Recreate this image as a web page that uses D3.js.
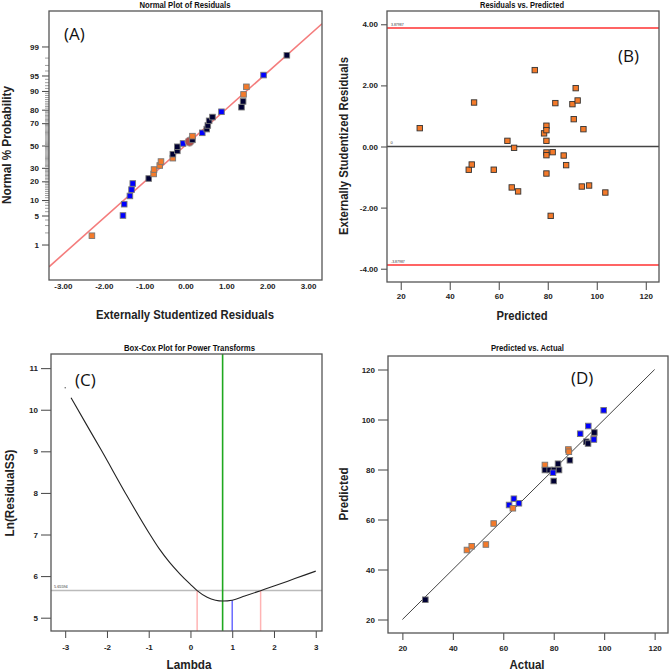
<!DOCTYPE html>
<html><head><meta charset="utf-8">
<script src="https://cdn.jsdelivr.net/npm/d3@7"></script>
<style>body{margin:0;background:#fff}svg{display:block}</style>
</head><body><svg id="c" width="669" height="672"></svg>
<script>
// ---------- DATA ----------
// (A) Normal plot of residuals
const residA = [-2.29,-1.53,-1.50,-1.36,-1.32,-1.29,-0.90,-0.78,-0.77,-0.63,-0.60,-0.31,-0.31,-0.20,-0.20,-0.06,0.17,0.17,0.41,0.52,0.546,0.578,0.66,0.88,1.37,1.41,1.42,1.49,1.91,2.48];
const probA  = [1.7,5.0,8.4,11.8,15.0,18.6,21.9,25.2,28.6,31.9,35.3,38.3,41.9,45.0,48.8,51.9,55.3,58.7,61.7,65.0,68.1,71.9,74.8,78.6,81.6,85.0,88.5,91.6,95.1,98.3];
const colA   = ["o","b","b","b","b","b","n","o","o","o","o","o","n","n","n","b","n","o","b","n","n","n","n","b","n","n","o","o","b","n"];
const circleA = {resid:0.10, prob:53.7};
const lineAx = [-3.34, 3.34], lineAz = [-2.85, 2.86];
const probTicksA = [1,5,10,20,30,50,70,80,90,95,99];
const xTicksA = [-3,-2,-1,0,1,2,3];

// (B) Residuals vs predicted
const predB  = [27.76,49.93,47.76,48.98,63.54,66.26,65.3,67.9,57.96,74.7,78.5,79.46,79.46,79.46,79.46,79.46,79.46,81.2,82.0,83.1,86.5,87.5,90.07,90.6,91.4,92.2,93.9,94.56,96.87,103.5];
const residB = [0.60,1.44,-0.76,-0.59,0.185,-0.044,-1.34,-1.47,-0.76,2.50,0.43,0.68,0.535,0.185,-0.196,-0.284,-0.884,-2.27,-0.185,1.42,-0.295,-0.61,1.386,0.895,1.91,1.506,-1.31,0.567,-1.277,-1.506];
const limitB = 3.87987;
const xTicksB = [20,40,60,80,100,120];
const yTicksB = [-4,-2,0,2,4];

// (C) Box-Cox
const lambdaC = [-2.86,-2.5,-2.12,-1.56,-1.0,-0.75,-0.5,-0.25,0,0.16,0.4,0.6,0.77,1.0,1.3,1.68,2.0,2.5,3.0];
const lnRssC  = [10.29,9.66,9.0,8.0,7.05,6.66,6.33,6.05,5.80,5.65,5.49,5.42,5.40,5.42,5.52,5.65,5.76,5.94,6.12];
const ciLineC = 5.65594, bestLambdaC = 0.77, currentLambdaC = 1.0, lowCIC = 0.16, highCIC = 1.68;
const strayC = {l:-3.0, v:10.53};
const xTicksC = [-3,-2,-1,0,1,2,3];
const yTicksC = [5,6,7,8,9,10,11];

// (D) Predicted vs actual
const actualD = [29.1,45.6,47.5,53.1,56.2,62.3,64.2,63.8,66.2,76.5,76.5,78.4,80.1,82.1,79.7,81.7,80.0,86.4,85.8,86.0,90.5,93.7,92.9,93.6,96.1,95.9,95.9,99.8];
const predD   = [27.9,47.8,49.3,50.0,58.4,65.8,68.3,64.5,66.5,81.8,79.8,79.8,79.8,79.8,78.7,82.3,75.4,83.7,88.0,87.1,94.3,97.4,91.1,90.4,94.8,92.4,92.0,103.7];
const colD    = ["n","o","o","o","o","b","b","o","b","o","n","n","n","n","b","n","n","n","o","o","b","b","n","n","n","o","b","b"];
const ticksD = [20,40,60,80,100,120];

// ---------- HELPERS ----------
const fill = {o:"#f47a2a", b:"#0000ff", n:"#000033"};
const svg = d3.select("#c");
const TF = "'Liberation Sans', Arial, sans-serif";

function probit(p){
  const a=[-3.969683028665376e+01,2.209460984245205e+02,-2.759285104469687e+02,1.383577518672690e+02,-3.066479806614716e+01,2.506628277459239e+00];
  const b=[-5.447609879822406e+01,1.615858368580409e+02,-1.556989798598866e+02,6.680131188771972e+01,-1.328068155288572e+01];
  const c=[-7.784894002430293e-03,-3.223964580411365e-01,-2.400758277161838e+00,-2.549732539343734e+00,4.374664141464968e+00,2.938163982698783e+00];
  const d=[7.784695709041462e-03,3.224671290700398e-01,2.445134137142996e+00,3.754408661907416e+00];
  const pl=0.02425, ph=1-pl; let q,r;
  if(p<pl){q=Math.sqrt(-2*Math.log(p));return (((((c[0]*q+c[1])*q+c[2])*q+c[3])*q+c[4])*q+c[5])/((((d[0]*q+d[1])*q+d[2])*q+d[3])*q+1);}
  if(p<=ph){q=p-0.5;r=q*q;return (((((a[0]*r+a[1])*r+a[2])*r+a[3])*r+a[4])*r+a[5])*q/(((((b[0]*r+b[1])*r+b[2])*r+b[3])*r+b[4])*r+1);}
  q=Math.sqrt(-2*Math.log(1-p));return -(((((c[0]*q+c[1])*q+c[2])*q+c[3])*q+c[4])*q+c[5])/((((d[0]*q+d[1])*q+d[2])*q+d[3])*q+1);
}

function frame(x0,y0,x1,y1,id){
  svg.append("clipPath").attr("id",id).append("rect").attr("x",x0).attr("y",y0).attr("width",x1-x0).attr("height",y1-y0);
  return ()=>svg.append("rect").attr("x",x0).attr("y",y0).attr("width",x1-x0).attr("height",y1-y0)
     .attr("fill","none").attr("stroke","#555").attr("stroke-width",1.3);
}
function styleAxis(g){
  g.select(".domain").remove();
  g.selectAll("line").attr("stroke","#444").attr("stroke-width",1);
  g.selectAll("text").attr("font-family",TF).attr("font-size",8).attr("font-weight","bold").attr("fill","#222");
}
function title(txt,x,y,len){
  svg.append("text").attr("x",x).attr("y",y).attr("text-anchor","middle").attr("font-family",TF)
    .attr("font-size",8.5).attr("font-weight","bold").attr("fill","#111")
    .attr("textLength",len).attr("lengthAdjust","spacingAndGlyphs").text(txt);
}
function axTitle(txt,x,y,len,rot){
  const t=svg.append("text").attr("text-anchor","middle").attr("font-family",TF).attr("font-weight","bold")
    .attr("font-size",12.5).attr("fill","#222").attr("textLength",len).attr("lengthAdjust","spacingAndGlyphs").text(txt);
  if(rot) t.attr("transform",`translate(${x},${y}) rotate(-90)`); else t.attr("x",x).attr("y",y);
}
function panelLabel(txt,x,y){
  svg.append("text").attr("x",x).attr("y",y).attr("font-family","'Open Sans', 'Liberation Sans', sans-serif")
    .attr("font-size",17).attr("fill","#111").text(txt);
}
function squares(g,xs,ys,cols,size,stroke){
  g.selectAll(null).data(xs.map((x,i)=>[x,ys[i],cols[i]])).join("rect")
    .attr("x",d=>d[0]-size/2).attr("y",d=>d[1]-size/2).attr("width",size).attr("height",size)
    .attr("fill",d=>fill[d[2]]).attr("stroke",stroke).attr("stroke-width",0.9);
}

// ---------- PANEL A ----------
{
  const x = d3.scaleLinear().domain([-3.34,3.34]).range([49,322]);
  const z = d3.scaleLinear().domain([-3.16,3.16]).range([280,11]);
  const y = p => z(probit(p/100));
  const drawFrame = frame(49,11,322,280,"clipA");
  const minor = d3.range(2,99).filter(p=>!probTicksA.includes(p));
  svg.append("g").selectAll("line").data(minor).join("line")
    .attr("x1",45).attr("x2",49).attr("y1",d=>y(d)).attr("y2",d=>y(d)).attr("stroke","#888").attr("stroke-width",0.8);
  const gy = svg.append("g").attr("transform","translate(49,0)")
    .call(d3.axisLeft(d3.scaleLinear().domain(z.domain()).range(z.range())).tickValues(probTicksA.map(p=>probit(p/100)))
      .tickFormat((d,i)=>probTicksA[i]).tickSize(7).tickPadding(3));
  styleAxis(gy);
  const gx = svg.append("g").attr("transform","translate(0,280)")
    .call(d3.axisBottom(x).tickValues(xTicksA).tickFormat(d=>d.toFixed(2)).tickSize(0).tickPadding(3));
  styleAxis(gx);
  svg.append("line").attr("clip-path","url(#clipA)")
    .attr("x1",x(lineAx[0])).attr("y1",z(lineAz[0])).attr("x2",x(lineAx[1])).attr("y2",z(lineAz[1]))
    .attr("stroke","#f47c7c").attr("stroke-width",1.6);
  const g = svg.append("g");
  const pts = residA.map((r,i)=>({r,p:probA[i],c:colA[i]}));
  g.selectAll(null).data(pts.filter(d=>d.r<circleA.resid)).join("rect")
    .attr("x",d=>x(d.r)-2.8).attr("y",d=>y(d.p)-2.8).attr("width",5.6).attr("height",5.6)
    .attr("fill",d=>fill[d.c]).attr("stroke","#777").attr("stroke-width",0.9);
  g.append("circle").attr("cx",x(circleA.resid)).attr("cy",y(circleA.prob)).attr("r",4.6)
    .attr("fill","#b0504c").attr("stroke","#999").attr("stroke-width",0.9);
  g.selectAll(null).data(pts.filter(d=>d.r>=circleA.resid)).join("rect")
    .attr("x",d=>x(d.r)-2.8).attr("y",d=>y(d.p)-2.8).attr("width",5.6).attr("height",5.6)
    .attr("fill",d=>fill[d.c]).attr("stroke","#777").attr("stroke-width",0.9);
  drawFrame();
  title("Normal Plot of Residuals",185,8,91);
  axTitle("Externally Studentized Residuals",185,318.5,178,false);
  axTitle("Normal % Probability",11,145,118,true);
  panelLabel("(A)",64,40);
}

// ---------- PANEL B ----------
{
  const x = d3.scaleLinear().domain([14.4,125.4]).range([387,659]);
  const y = d3.scaleLinear().domain([-4.435,4.435]).range([282,11]);
  const drawFrame = frame(387,11,659,282,"clipB");
  const gy = svg.append("g").attr("transform","translate(387,0)")
    .call(d3.axisLeft(y).tickValues(yTicksB).tickFormat(d=>d.toFixed(2)).tickSize(6).tickPadding(3));
  styleAxis(gy);
  const gx = svg.append("g").attr("transform","translate(0,282)")
    .call(d3.axisBottom(x).tickValues(xTicksB).tickFormat(d=>d).tickSize(8).tickPadding(3));
  styleAxis(gx);
  [limitB,-limitB].forEach(v=>{
    svg.append("line").attr("x1",387).attr("x2",659).attr("y1",y(v)).attr("y2",y(v)).attr("stroke","#ff3030").attr("stroke-width",1.5);
    svg.append("text").attr("x",391).attr("y",y(v)-2).attr("font-family",TF).attr("font-size",3.5).attr("fill","#333")
      .text(v>0?limitB.toFixed(5):"-"+limitB.toFixed(5));
  });
  svg.append("line").attr("x1",387).attr("x2",659).attr("y1",y(0)).attr("y2",y(0)).attr("stroke","#444").attr("stroke-width",1.3);
  svg.append("text").attr("x",390.5).attr("y",y(0)-2.5).attr("font-family",TF).attr("font-size",4).attr("fill","#333").text("0");
  const g = svg.append("g");
  squares(g,predB.map(x),residB.map(y),predB.map(()=>"o"),5.4,"#333");
  drawFrame();
  title("Residuals vs. Predicted",522,7.5,84);
  axTitle("Predicted",522,319.5,51,false);
  axTitle("Externally Studentized Residuals",347.5,146,178,true);
  panelLabel("(B)",618,61.5);
}

// ---------- PANEL C ----------
{
  const x = d3.scaleLinear().domain([-3.34,3.15]).range([51,322]);
  const y = d3.scaleLinear().domain([4.68,11.34]).range([631,354]);
  const drawFrame = frame(51,354,322,631,"clipC");
  const gy = svg.append("g").attr("transform","translate(51,0)")
    .call(d3.axisLeft(y).tickValues(yTicksC).tickFormat(d=>d).tickSize(10).tickPadding(3));
  styleAxis(gy);
  const gx = svg.append("g").attr("transform","translate(0,631)")
    .call(d3.axisBottom(x).tickValues(xTicksC).tickFormat(d=>d<0?"-"+Math.abs(d):d).tickSize(7).tickPadding(6));
  styleAxis(gx);
  svg.append("line").attr("x1",51).attr("x2",322).attr("y1",y(ciLineC)).attr("y2",y(ciLineC)).attr("stroke","#bbb").attr("stroke-width",1.5);
  svg.append("text").attr("x",54).attr("y",y(ciLineC)-2.5).attr("font-family",TF).attr("font-size",3.8).attr("fill","#333").text(ciLineC.toFixed(5));
  [lowCIC,highCIC].forEach(v=>svg.append("line").attr("x1",x(v)).attr("x2",x(v)).attr("y1",631).attr("y2",y(ciLineC))
    .attr("stroke","#ffb4b4").attr("stroke-width",1.5));
  const curveY = v => {
    const i = d3.bisectLeft(lambdaC,v); if(i<=0) return lnRssC[0];
    const t=(v-lambdaC[i-1])/(lambdaC[i]-lambdaC[i-1]); return lnRssC[i-1]+t*(lnRssC[i]-lnRssC[i-1]); };
  svg.append("line").attr("x1",x(currentLambdaC)).attr("x2",x(currentLambdaC)).attr("y1",631).attr("y2",y(curveY(currentLambdaC)))
    .attr("stroke","#6a6aff").attr("stroke-width",1.5);
  svg.append("line").attr("x1",x(bestLambdaC)).attr("x2",x(bestLambdaC)).attr("y1",354).attr("y2",631)
    .attr("stroke","#1fa81f").attr("stroke-width",1.6);
  svg.append("path").datum(lambdaC.map((l,i)=>[l,lnRssC[i]]))
    .attr("d",d3.line().x(d=>x(d[0])).y(d=>y(d[1])).curve(d3.curveMonotoneX))
    .attr("fill","none").attr("stroke","#222").attr("stroke-width",1.1);
  svg.append("circle").attr("cx",x(strayC.l)).attr("cy",y(strayC.v)).attr("r",0.7).attr("fill","#555");
  drawFrame();
  title("Box-Cox Plot for Power Transforms",189.5,350.5,131);
  axTitle("Lambda",189,668.5,45,false);
  axTitle("Ln(ResidualSS)",13.5,493,87,true);
  panelLabel("(C)",75,385.5);
}

// ---------- PANEL D ----------
{
  const x = d3.scaleLinear().domain([14.3,125.3]).range([388,668]);
  const y = d3.scaleLinear().domain([14.6,125.4]).range([633,356]);
  const drawFrame = frame(388,356,668,633,"clipD");
  const gy = svg.append("g").attr("transform","translate(388,0)")
    .call(d3.axisLeft(y).tickValues(ticksD).tickFormat(d=>d).tickSize(10).tickPadding(3));
  styleAxis(gy);
  const gx = svg.append("g").attr("transform","translate(0,633)")
    .call(d3.axisBottom(x).tickValues(ticksD).tickFormat(d=>d).tickSize(7).tickPadding(5));
  styleAxis(gx);
  svg.append("line").attr("x1",x(20)).attr("y1",y(20)).attr("x2",x(120)).attr("y2",y(120))
    .attr("stroke","#444").attr("stroke-width",1);
  const g = svg.append("g");
  squares(g,actualD.map(x),predD.map(y),colD,5.6,"#777");
  drawFrame();
  title("Predicted vs. Actual",527.5,350.8,73);
  axTitle("Actual",527,668.5,35,false);
  axTitle("Predicted",348,494,53,true);
  panelLabel("(D)",571,384);
}
</script></body></html>
